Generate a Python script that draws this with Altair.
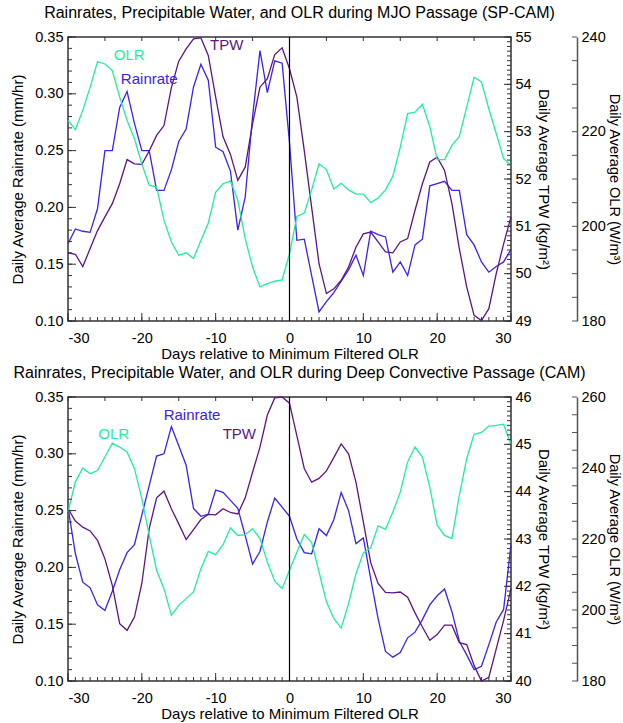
import altair as alt
import pandas as pd

FONT = "Liberation Sans"
C_OLR = "#1FEE9C"
C_RAIN = "#3A22F0"
C_TPW = "#5B1585"
AX = "#333333"

days = list(range(-30, 31))

# ---- SP-CAM (MJO passage) ----
rain_sp = [0.168, 0.181, 0.179, 0.178, 0.199, 0.250, 0.250, 0.288, 0.302, 0.274,
           0.250, 0.250, 0.215, 0.215, 0.233, 0.258, 0.269, 0.306, 0.326, 0.312,
           0.253, 0.249, 0.232, 0.180, 0.209, 0.280, 0.338, 0.301, 0.329, 0.327,
           0.257, 0.171, 0.172, 0.140, 0.108, 0.117, 0.125, 0.135, 0.145, 0.158,
           0.140, 0.179, 0.176, 0.174, 0.143, 0.152, 0.140, 0.167, 0.172, 0.219,
           0.221, 0.223, 0.215, 0.215, 0.176, 0.167, 0.152, 0.143, 0.148, 0.152,
           0.163]
tpw_sp = [50.44, 50.41, 50.15, 50.53, 50.91, 51.20, 51.48, 51.90, 52.41, 52.32,
          52.31, 52.59, 52.92, 53.13, 53.93, 54.49, 54.75, 54.96, 54.98, 54.61,
          53.73, 52.89, 52.52, 51.97, 52.25, 53.17, 53.94, 54.12, 54.63, 54.77,
          54.33, 53.73, 52.60, 51.40, 50.21, 49.58, 49.68, 49.86, 50.14, 50.56,
          50.84, 50.88, 50.67, 50.46, 50.44, 50.67, 50.74, 51.34, 51.90, 52.36,
          52.46, 52.18, 51.48, 50.53, 49.72, 49.12, 49.01, 49.26, 50.00, 50.63,
          51.20]
olr_sp = [222.4, 220.4, 224.5, 229.4, 234.8, 234.3, 232.9, 227.3, 222.4, 218.5,
          213.2, 208.7, 208.3, 201.3, 196.7, 193.9, 194.4, 193.2, 197.0, 200.7,
          207.2, 209.0, 209.6, 205.5, 197.4, 191.4, 187.2, 187.9, 188.4, 188.7,
          194.2, 202.1, 202.8, 207.7, 213.2, 212.0, 207.9, 209.1, 207.7, 206.8,
          206.8, 205.0, 206.0, 207.7, 210.6, 216.7, 223.8, 224.1, 225.8, 221.1,
          214.1, 214.1, 217.1, 219.0, 225.2, 231.5, 230.5, 224.8, 219.6, 214.3,
          212.9]

# ---- CAM (deep convective passage) ----
rain_cam = [0.253, 0.212, 0.187, 0.182, 0.167, 0.162, 0.179, 0.198, 0.213, 0.220,
            0.246, 0.272, 0.298, 0.300, 0.324, 0.307, 0.290, 0.252, 0.245, 0.247,
            0.268, 0.266, 0.259, 0.252, 0.228, 0.203, 0.214, 0.240, 0.261, 0.253,
            0.245, 0.225, 0.213, 0.212, 0.234, 0.228, 0.242, 0.266, 0.250, 0.221,
            0.226, 0.190, 0.155, 0.126, 0.121, 0.125, 0.138, 0.143, 0.154, 0.167,
            0.175, 0.181, 0.161, 0.135, 0.123, 0.110, 0.113, 0.132, 0.152, 0.163,
            0.220]
tpw_cam = [43.64, 43.38, 43.25, 43.17, 42.97, 42.58, 42.02, 41.21, 41.07, 41.35,
           42.06, 43.22, 43.87, 44.01, 43.64, 43.32, 42.99, 43.20, 43.41, 43.52,
           43.51, 43.64, 43.56, 43.53, 43.87, 44.41, 44.94, 45.62, 45.98, 46.00,
           45.87, 45.18, 44.49, 44.20, 44.28, 44.44, 44.72, 45.01, 44.80, 44.20,
           43.36, 42.50, 42.06, 41.87, 41.86, 41.88, 41.77, 41.44, 41.14, 40.86,
           40.98, 41.18, 41.18, 40.81, 40.77, 40.33, 40.00, 40.08, 40.68, 41.28,
           41.95]
olr_cam = [227.6, 236.1, 240.0, 238.4, 239.3, 243.1, 247.0, 245.9, 244.5, 239.8,
           231.4, 221.0, 211.2, 206.0, 198.5, 201.3, 203.2, 205.1, 211.6, 216.5,
           215.6, 218.4, 223.1, 221.0, 221.2, 222.9, 220.1, 213.5, 208.1, 206.0,
           211.2, 216.3, 221.3, 219.0, 210.7, 202.3, 197.6, 194.9, 201.8, 210.2,
           216.1, 217.5, 223.7, 222.7, 227.6, 233.2, 241.7, 245.9, 243.1, 234.6,
           223.9, 221.0, 220.1, 232.3, 242.6, 249.5, 250.0, 251.8, 252.0, 252.3,
           246.6]

titles = ["Rainrates, Precipitable Water, and OLR during MJO Passage (SP-CAM)",
          "Rainrates, Precipitable Water, and OLR during Deep Convective Passage (CAM)"]

label_text = ["OLR", "Rainrate", "TPW"]
label_color = [C_OLR, C_RAIN, C_TPW]
label_day_sp = [-21.7, -19.0, -8.5]
label_rain_sp = [0.334, 0.313, 0.343]
label_day_cam = [-23.8, -13.2, -6.8]
label_rain_cam = [0.317, 0.334, 0.317]

x_labels = [-30, -20, -10, 0, 10, 20, 30]
x_minor = list(range(-30, 31))
x_top = list(range(-30, 31, 5))
rain_major = [0.10, 0.15, 0.20, 0.25, 0.30, 0.35]
rain_minor = [round(0.10 + 0.01 * i, 2) for i in range(26)]

W, H = 443, 284
OLR_OFF = 66


def panel(title, rain, tpw, olr, tpw_lo, tpw_hi, olr_lo, olr_hi, ldays, lrain):
    df = pd.DataFrame({"day": days, "rain": rain, "tpw": tpw, "olr": olr})
    rs = lambda: alt.Scale(domain=[0.10, 0.35], nice=False, zero=False)
    ts = lambda: alt.Scale(domain=[tpw_lo, tpw_hi], nice=False, zero=False)
    os_ = lambda: alt.Scale(domain=[olr_lo, olr_hi], nice=False, zero=False)

    xenc = alt.X("day:Q", scale=alt.Scale(domain=[-30, 30], nice=False, zero=False),
                 axis=alt.Axis(values=x_labels, ticks=False, domain=False, grid=False,
                               labelExpr="'' + datum.value", labelPadding=10,
                               title="Days relative to Minimum Filtered OLR",
                               titlePadding=2))
    layers = []
    layers.append(alt.Chart(df).mark_line(color=C_RAIN, strokeWidth=1.3).encode(
        x=xenc,
        y=alt.Y("rain:Q", scale=rs(),
                axis=alt.Axis(orient="left", values=rain_major, format=".2f", ticks=False,
                              domain=False, grid=False, labelPadding=5,
                              title="Daily Average Rainrate (mm/hr)", titlePadding=9))))

    tpw_major = list(range(tpw_lo, tpw_hi + 1))
    tpw_minor = [round(tpw_lo + 0.1 * i, 1) for i in range((tpw_hi - tpw_lo) * 10 + 1)]
    layers.append(alt.Chart(df).mark_line(color=C_TPW, strokeWidth=1.3).encode(
        x=xenc,
        y=alt.Y("tpw:Q", scale=ts(),
                axis=alt.Axis(orient="right", values=tpw_major, format="d", ticks=False,
                              domain=False, grid=False, labelPadding=4,
                              title="Daily Average TPW (kg/m²)", titlePadding=4))))

    olr_major = list(range(olr_lo, olr_hi + 1, 20))
    olr_minor = list(range(olr_lo, olr_hi + 1, 5))
    layers.append(alt.Chart(df).mark_line(color=C_OLR, strokeWidth=1.3).encode(
        x=xenc,
        y=alt.Y("olr:Q", scale=os_(),
                axis=alt.Axis(orient="right", offset=OLR_OFF, values=olr_major, format="d",
                              ticks=False, domain=True, domainColor="#555555",
                              domainWidth=1.5, grid=False, labelPadding=4,
                              titleFontSize=14.5,
                              title="Daily Average OLR (W/m³)", titlePadding=1))))

    def yrule(vals, sc, x0, x1, color=AX):
        return alt.Chart(pd.DataFrame({"v": vals})).mark_rule(color=color, strokeWidth=1).encode(
            y=alt.Y("v:Q", scale=sc, axis=None), x=alt.value(x0), x2=alt.value(x1))

    def xrule(vals, y0, y1):
        return alt.Chart(pd.DataFrame({"day": vals})).mark_rule(color=AX, strokeWidth=1).encode(
            x=xenc, y=alt.value(y0), y2=alt.value(y1))

    layers += [
        yrule(rain_minor, rs(), 0, 4),
        yrule(rain_major, rs(), 0, 8),
        yrule(tpw_minor, ts(), W, W - 4),
        yrule(tpw_major, ts(), W, W - 7),
        yrule(olr_minor, os_(), W + OLR_OFF, W + OLR_OFF - 5, "#555555"),
        xrule(x_minor, H, H - 4),
        xrule(x_labels, H, H - 8),
        xrule(x_top, 0, 4),
        alt.Chart(pd.DataFrame({"day": [0]})).mark_rule(color="black", strokeWidth=1.2).encode(
            x=xenc),
        alt.Chart(pd.DataFrame({"t": label_text, "c": label_color, "day": ldays, "v": lrain})).mark_text(
            font=FONT, fontSize=15, align="center", baseline="middle").encode(
            x=xenc, y=alt.Y("v:Q", scale=rs(), axis=None),
            text="t:N", color=alt.Color("c:N", scale=None)),
    ]

    return alt.layer(*layers).resolve_scale(y="independent").properties(
        width=W, height=H,
        title=alt.TitleParams(title, fontSize=16, font=FONT, fontWeight="normal",
                              color="black", anchor="middle", offset=8, dx=10))


top = panel(titles[0], rain_sp, tpw_sp, olr_sp, 49, 55, 180, 240, label_day_sp, label_rain_sp)
bot = panel(titles[1], rain_cam, tpw_cam, olr_cam, 40, 46, 180, 260, label_day_cam, label_rain_cam)

chart = alt.vconcat(top, bot, spacing=1).properties(
    padding={"left": 10, "top": 4, "right": 0, "bottom": 0}, background="white"
).configure_view(stroke=AX, strokeWidth=1.5).configure_axis(
    labelFont=FONT, titleFont=FONT, labelFontSize=14.5, titleFontSize=15,
    labelColor="black", titleColor="black", titleFontWeight="normal"
)

chart.save("out.html", embed_options={"renderer": "svg", "actions": False})
